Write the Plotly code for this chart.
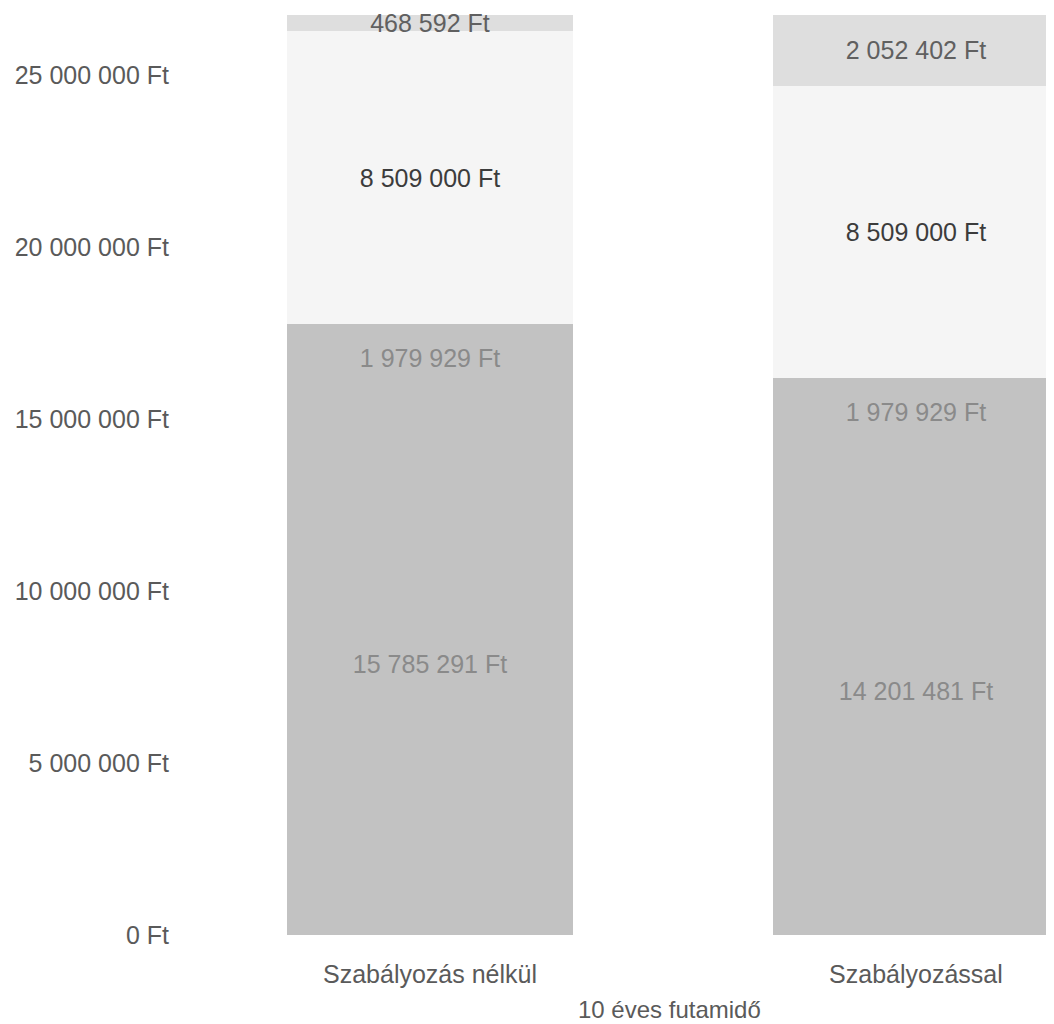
import plotly.graph_objects as go

categories = ["Szabályozás nélkül", "Szabályozással"]
base_values = [15785291, 14201481]
second_values = [1979929, 1979929]
third_values = [8509000, 8509000]
top_values = [468592, 2052402]
y_tick_values = [0, 5000000, 10000000, 15000000, 20000000, 25000000]
x_axis_title = "10 éves futamidő"


def ft(v):
    return f"{v:,}".replace(",", " ") + " Ft"


series = [
    (base_values, "#c2c2c2", "#8a8a8a"),
    (second_values, "#c2c2c2", "#8a8a8a"),
    (third_values, "#f5f5f5", "#3c3c3c"),
    (top_values, "#dedede", "#606060"),
]

fig = go.Figure()
for vals, col, tcol in series:
    fig.add_trace(go.Bar(
        x=categories, y=vals,
        marker=dict(color=col, line=dict(width=0)),
        text=[ft(v) for v in vals],
        textposition="inside", insidetextanchor="middle", textangle=0,
        textfont=dict(family="Liberation Sans", size=25, color=tcol),
        width=0.587, showlegend=False, hoverinfo="skip",
    ))

fig.update_layout(
    barmode="stack",
    width=1046, height=1016,
    margin=dict(l=179, r=0, t=0, b=89),
    plot_bgcolor="white", paper_bgcolor="white",
    uniformtext=dict(mode="show", minsize=25),
    font=dict(family="Liberation Sans", color="#5a5a5a"),
    xaxis=dict(range=[-0.5, 1.284], showgrid=False, zeroline=False, showline=False,
               ticks="", tickfont=dict(size=25, color="#5a5a5a"), ticklabelstandoff=22),
    yaxis=dict(range=[0, 26950000], tickvals=y_tick_values,
               ticktext=[ft(v) for v in y_tick_values],
               showgrid=False, zeroline=False, showline=False, ticks="",
               tickfont=dict(size=25, color="#5a5a5a"), ticklabelstandoff=17),
    annotations=[dict(text=x_axis_title, xref="paper", yref="paper",
                      x=0.557, y=0, yanchor="middle", yshift=-74, showarrow=False,
                      font=dict(size=24, color="#5a5a5a"))],
)

fig.write_html("out.html")
